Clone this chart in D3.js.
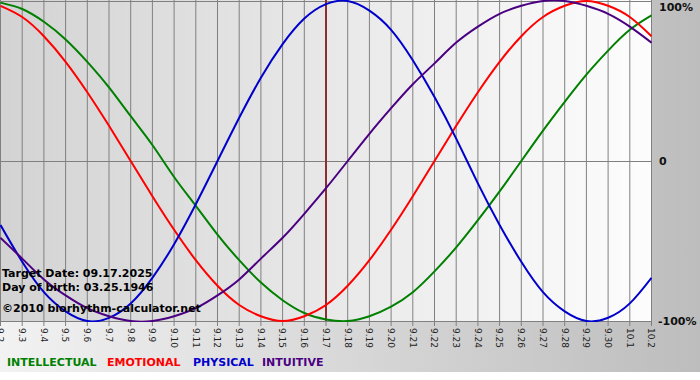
<!DOCTYPE html>
<html>
<head>
<meta charset="utf-8">
<script src="https://cdn.jsdelivr.net/npm/d3@7"></script>
<style>
  html, body { margin: 0; padding: 0; background: #fff; }
  svg { display: block; font-family: "DejaVu Sans", Verdana, sans-serif; }
</style>
</head>
<body>
<svg id="chart" width="700" height="380"></svg>
<script>
// day labels, 9.2 .. 10.2
const days = ['9.2', '9.3', '9.4', '9.5', '9.6', '9.7', '9.8', '9.9', '9.10', '9.11', '9.12',
  '9.13', '9.14', '9.15', '9.16', '9.17', '9.18', '9.19', '9.20', '9.21', '9.22', '9.23',
  '9.24', '9.25', '9.26', '9.27', '9.28', '9.29', '9.30', '10.1', '10.2']

// values in percent, one per day
const intellectual = [99, 95, 87, 76, 62, 46, 28, 10, -10, -28, -46, -62, -76, -87, -95, -99,
  -100, -97, -91, -82, -69, -54, -37, -19, 0, 19, 37, 54, 69, 82, 91]
const emotional = [97, 90, 78, 62, 43, 22, 0, -22, -43, -62, -78, -90, -97, -100, -97, -90,
  -78, -62, -43, -22, 0, 22, 43, 62, 78, 90, 97, 100, 97, 90, 78]
const physical = [-40, -63, -82, -94, -100, -98, -89, -73, -52, -27, 0, 27, 52, 73, 89, 98,
  100, 94, 82, 63, 40, 14, -14, -40, -63, -82, -94, -100, -98, -89, -73]
const intuitive = [-48, -61, -74, -84, -92, -97, -100, -100, -97, -92, -84, -74, -61, -48, -33, -17,
  0, 17, 33, 48, 61, 74, 84, 92, 97, 100, 100, 97, 92, 84, 74]

const yTicks = [100, 0, -100]
const yTickLabels = ['100%', '0', '-100%']
const targetDay = '9.17'

const series = [
  { name: 'INTELLECTUAL', values: intellectual, color: '#008000' },
  { name: 'EMOTIONAL', values: emotional, color: '#ff0000' },
  { name: 'PHYSICAL', values: physical, color: '#0000cc' },
  { name: 'INTUITIVE', values: intuitive, color: '#4b0082' }
]

const svg = d3.select('#chart')
const plot = { left: 0, top: 1, right: 651, bottom: 321 }

const x = d3.scalePoint().domain(days).range([plot.left + 0.5, plot.right + 0.5])
const y = d3.scaleLinear().domain([-100, 100]).range([plot.bottom, plot.top])

// gradients
const defs = svg.append('defs')
const outerGrad = defs.append('linearGradient').attr('id', 'outerGrad')
outerGrad.append('stop').attr('offset', '0%').attr('stop-color', '#f2f2f2')
outerGrad.append('stop').attr('offset', '100%').attr('stop-color', '#bdbdbd')
const plotGrad = defs.append('linearGradient').attr('id', 'plotGrad')
plotGrad.append('stop').attr('offset', '0%').attr('stop-color', '#d3d3d3')
plotGrad.append('stop').attr('offset', '100%').attr('stop-color', '#fdfdfd')
defs.append('clipPath').attr('id', 'clip')
  .append('rect')
  .attr('x', plot.left).attr('y', 0)
  .attr('width', plot.right - plot.left + 1).attr('height', plot.bottom + 1)

svg.append('rect').attr('width', 700).attr('height', 372).attr('fill', 'url(#outerGrad)')
svg.append('rect')
  .attr('x', plot.left).attr('y', 0)
  .attr('width', plot.right - plot.left).attr('height', plot.bottom)
  .attr('fill', 'url(#plotGrad)')

// vertical grid lines + ticks
svg.append('g')
  .selectAll('line')
  .data(days)
  .join('line')
  .attr('x1', d => x(d)).attr('x2', d => x(d))
  .attr('y1', 0).attr('y2', plot.bottom + 5)
  .attr('stroke', '#808080')
  .attr('stroke-width', 1)

// horizontal lines: top, zero, bottom
svg.append('g')
  .selectAll('line')
  .data(yTicks)
  .join('line')
  .attr('x1', plot.left).attr('x2', plot.right + 1)
  .attr('y1', d => Math.round(y(d)) + 0.5).attr('y2', d => Math.round(y(d)) + 0.5)
  .attr('stroke', '#808080')
  .attr('stroke-width', 1)

// x labels, rotated
svg.append('g')
  .selectAll('text')
  .data(days)
  .join('text')
  .attr('transform', d => `translate(${x(d)},${plot.bottom + 7}) rotate(90)`)
  .attr('dy', '0.35em')
  .attr('font-size', 9)
  .attr('fill', '#222')
  .text(d => d)

// y labels at right
svg.append('g')
  .selectAll('text')
  .data(yTicks)
  .join('text')
  .attr('x', (d, i) => i === 2 ? 658 : 659)
  .attr('y', (d, i) => i === 0 ? 11 : y(d) + 4)
  .attr('font-size', 11)
  .attr('font-weight', 'bold')
  .attr('fill', '#111')
  .text((d, i) => yTickLabels[i])

// target day marker
svg.append('line')
  .attr('x1', x(targetDay)).attr('x2', x(targetDay))
  .attr('y1', 0).attr('y2', plot.bottom)
  .attr('stroke', '#8b3030')
  .attr('stroke-width', 2)

// curves
const line = d3.line()
  .x((d, i) => x(days[i]))
  .y(d => y(d))
  .curve(d3.curveNatural)

svg.append('g')
  .attr('clip-path', 'url(#clip)')
  .selectAll('path')
  .data(series)
  .join('path')
  .attr('d', d => line(d.values))
  .attr('fill', 'none')
  .attr('stroke', d => d.color)
  .attr('stroke-width', 2)

// info text
const info = ['Target Date: 09.17.2025', 'Day of birth: 03.25.1946', '©2010 biorhythm-calculator.net']
svg.append('g')
  .selectAll('text')
  .data(info)
  .join('text')
  .attr('x', 2)
  .attr('y', (d, i) => [277, 291, 312][i])
  .attr('font-size', 11)
  .attr('font-weight', 'bold')
  .attr('fill', '#000')
  .text(d => d)

// legend
const legendX = [7, 107, 193, 262]
svg.append('g')
  .selectAll('text')
  .data(series)
  .join('text')
  .attr('x', (d, i) => legendX[i])
  .attr('y', 366)
  .attr('font-size', 11)
  .attr('font-weight', 'bold')
  .attr('fill', d => d.color)
  .text(d => d.name)
</script>
</body>
</html>
